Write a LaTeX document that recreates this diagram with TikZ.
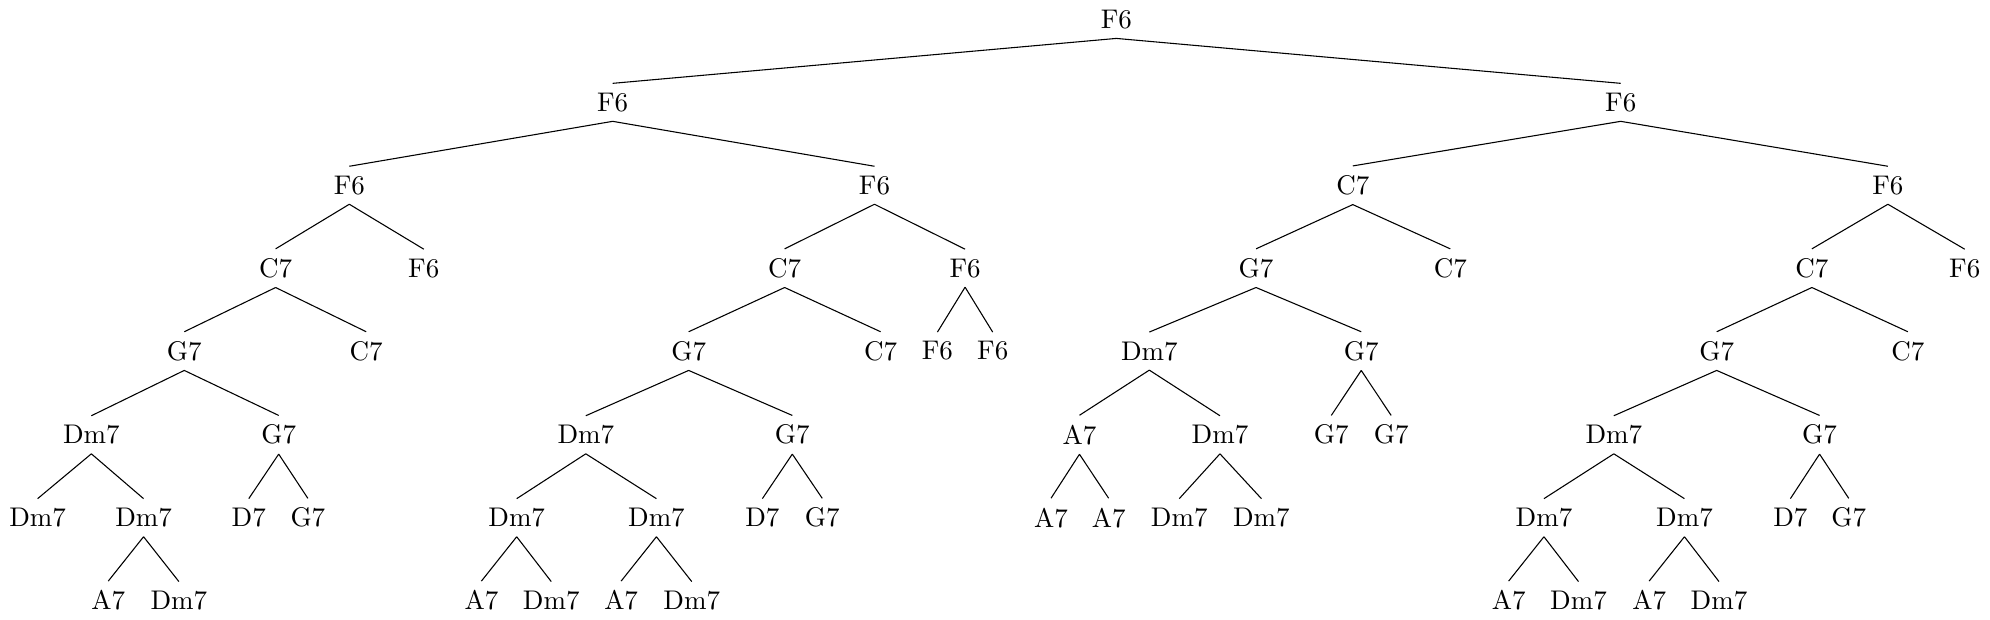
\documentclass[tikz,border=0pt]{standalone}
\usepackage{tikz}

\begin{document}
\begin{tikzpicture}[chord/.style={inner sep=3.33pt}]
	\useasboundingbox (0,0.253) rectangle (25.92,-7.82);
	% level 0 and 1
	\node[chord] (a1) at (14.54, 0) {F6};
	\node[chord] (b1) at (7.98, -1.08) {F6}; \node[chord] (b2) at (21.11, -1.08) {F6};
	% level 2
	\node[chord] (c1) at (4.55, -2.16) {F6}; \node[chord] (c2) at (11.39, -2.16) {F6};
	\node[chord] (c3) at (17.62, -2.16) {C7}; \node[chord] (c4) at (24.59, -2.16) {F6};
	% level 3
	\node[chord] (d1) at (3.59, -3.24) {C7}; \node[chord] (d2) at (5.52, -3.24) {F6};
	\node[chord] (d3) at (10.22, -3.24) {C7}; \node[chord] (d4) at (12.57, -3.24) {F6};
	\node[chord] (d5) at (16.36, -3.24) {G7}; \node[chord] (d6) at (18.89, -3.24) {C7};
	\node[chord] (d7) at (23.60, -3.24) {C7}; \node[chord] (d8) at (25.59, -3.24) {F6};
	% level 4
	\node[chord] (e1) at (2.40, -4.32) {G7}; \node[chord] (e2) at (4.77, -4.32) {C7};
	\node[chord] (e3) at (8.97, -4.32) {G7}; \node[chord] (e4) at (11.47, -4.32) {C7};
	\node[chord] (e5) at (12.21, -4.32) {F6}; \node[chord] (e6) at (12.93, -4.32) {F6};
	\node[chord] (e7) at (14.97, -4.32) {Dm7}; \node[chord] (e8) at (17.73, -4.32) {G7};
	\node[chord] (e9) at (22.36, -4.32) {G7}; \node[chord] (e10) at (24.85, -4.32) {C7};
	% level 5
	\node[chord] (f1) at (1.19, -5.41) {Dm7}; \node[chord] (f2) at (3.63, -5.41) {G7};
	\node[chord] (f3) at (7.63, -5.41) {Dm7}; \node[chord] (f4) at (10.32, -5.41) {G7};
	\node[chord] (f5) at (14.06, -5.41) {A7}; \node[chord] (f6) at (15.89, -5.41) {Dm7};
	\node[chord] (f7) at (17.34, -5.41) {G7}; \node[chord] (f8) at (18.12, -5.41) {G7};
	\node[chord] (f9) at (21.02, -5.41) {Dm7}; \node[chord] (f10) at (23.70, -5.41) {G7};
	% level 6
	\node[chord] (g1) at (0.49, -6.49) {Dm7}; \node[chord] (g2) at (1.87, -6.49) {Dm7};
	\node[chord] (g3) at (3.24, -6.49) {D7}; \node[chord] (g4) at (4.01, -6.49) {G7};
	\node[chord] (g5) at (6.73, -6.49) {Dm7}; \node[chord] (g6) at (8.55, -6.49) {Dm7};
	\node[chord] (g7) at (9.93, -6.49) {D7}; \node[chord] (g8) at (10.71, -6.49) {G7};
	\node[chord] (g9) at (13.69, -6.49) {A7}; \node[chord] (g10) at (14.44, -6.49) {A7};
	\node[chord] (g11) at (15.36, -6.49) {Dm7}; \node[chord] (g12) at (16.43, -6.49) {Dm7};
	\node[chord] (g13) at (20.11, -6.49) {Dm7}; \node[chord] (g14) at (21.94, -6.49) {Dm7};
	\node[chord] (g15) at (23.32, -6.49) {D7}; \node[chord] (g16) at (24.08, -6.49) {G7};
	% level 7
	\node[chord] (h1) at (1.41, -7.57) {A7}; \node[chord] (h2) at (2.33, -7.57) {Dm7};
	\node[chord] (h3) at (6.27, -7.57) {A7}; \node[chord] (h4) at (7.18, -7.57) {Dm7};
	\node[chord] (h5) at (8.09, -7.57) {A7}; \node[chord] (h6) at (9.01, -7.57) {Dm7};
	\node[chord] (h7) at (19.65, -7.57) {A7}; \node[chord] (h8) at (20.56, -7.57) {Dm7};
	\node[chord] (h9) at (21.48, -7.57) {A7}; \node[chord] (h10) at (22.39, -7.57) {Dm7};
	% branches
	\draw (a1.south) -- (b1.north) (a1.south) -- (b2.north);
	\draw (b1.south) -- (c1.north) (b1.south) -- (c2.north);
	\draw (b2.south) -- (c3.north) (b2.south) -- (c4.north);
	\draw (c1.south) -- (d1.north) (c1.south) -- (d2.north);
	\draw (c2.south) -- (d3.north) (c2.south) -- (d4.north);
	\draw (c3.south) -- (d5.north) (c3.south) -- (d6.north);
	\draw (c4.south) -- (d7.north) (c4.south) -- (d8.north);
	\draw (d1.south) -- (e1.north) (d1.south) -- (e2.north);
	\draw (d3.south) -- (e3.north) (d3.south) -- (e4.north);
	\draw (d4.south) -- (e5.north) (d4.south) -- (e6.north);
	\draw (d5.south) -- (e7.north) (d5.south) -- (e8.north);
	\draw (d7.south) -- (e9.north) (d7.south) -- (e10.north);
	\draw (e1.south) -- (f1.north) (e1.south) -- (f2.north);
	\draw (e3.south) -- (f3.north) (e3.south) -- (f4.north);
	\draw (e7.south) -- (f5.north) (e7.south) -- (f6.north);
	\draw (e8.south) -- (f7.north) (e8.south) -- (f8.north);
	\draw (e9.south) -- (f9.north) (e9.south) -- (f10.north);
	\draw (f1.south) -- (g1.north) (f1.south) -- (g2.north);
	\draw (f2.south) -- (g3.north) (f2.south) -- (g4.north);
	\draw (f3.south) -- (g5.north) (f3.south) -- (g6.north);
	\draw (f4.south) -- (g7.north) (f4.south) -- (g8.north);
	\draw (f5.south) -- (g9.north) (f5.south) -- (g10.north);
	\draw (f6.south) -- (g11.north) (f6.south) -- (g12.north);
	\draw (f9.south) -- (g13.north) (f9.south) -- (g14.north);
	\draw (f10.south) -- (g15.north) (f10.south) -- (g16.north);
	\draw (g2.south) -- (h1.north) (g2.south) -- (h2.north);
	\draw (g5.south) -- (h3.north) (g5.south) -- (h4.north);
	\draw (g6.south) -- (h5.north) (g6.south) -- (h6.north);
	\draw (g13.south) -- (h7.north) (g13.south) -- (h8.north);
	\draw (g14.south) -- (h9.north) (g14.south) -- (h10.north);
\end{tikzpicture}
\end{document}
